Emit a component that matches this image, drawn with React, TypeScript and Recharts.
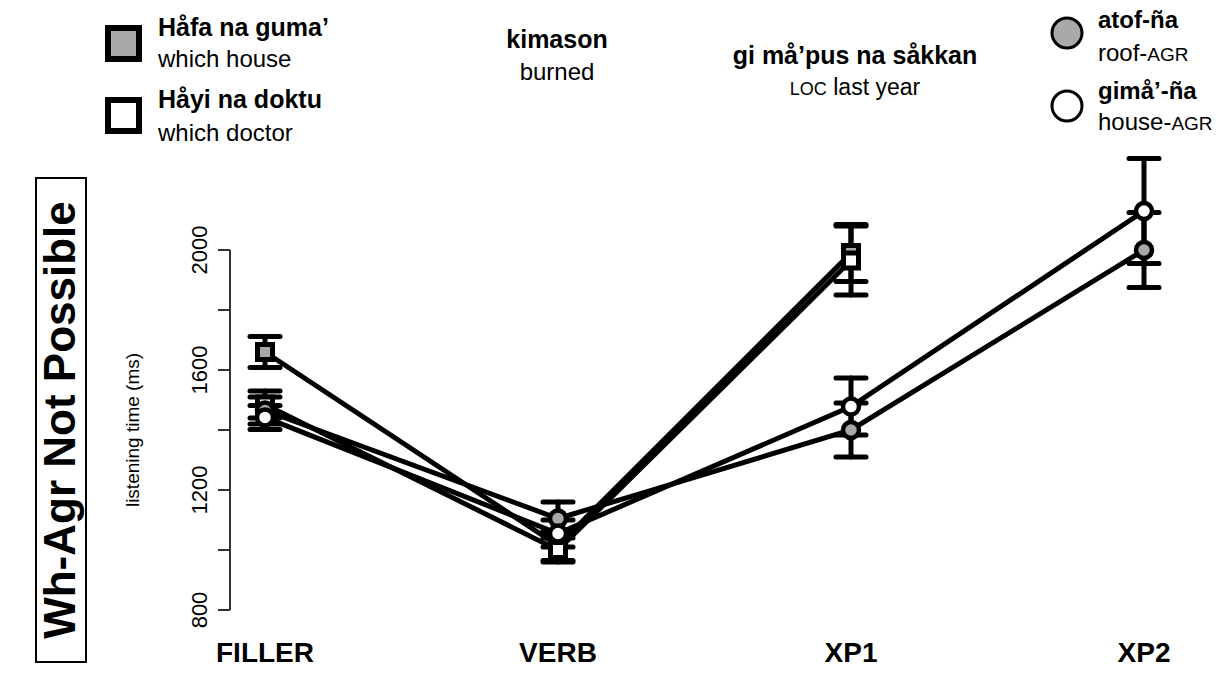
import React from 'react';
import { ComposedChart, Line, XAxis, YAxis, ErrorBar, ReferenceLine } from 'recharts';

const categories = ['FILLER', 'VERB', 'XP1', 'XP2'];
const hafaValues = [1660, 1015, 1990];
const hafaErrors = [52, 50, 95];
const hayiValues = [1485, 1000, 1965];
const hayiErrors = [45, 40, 115];
const atofValues = [1465, 1105, 1400, 2000];
const atofErrors = [45, 55, 90, 125];
const gimaValues = [1442, 1055, 1478, 2130];
const gimaErrors = [40, 45, 95, 175];
const yTicks = [800, 1000, 1200, 1400, 1600, 1800, 2000];
const yLabelTicks = [800, 1200, 1600, 2000];
const xTicks = [1, 2, 3, 4];

const FONT = '"Liberation Sans", Arial, Helvetica, sans-serif';

const W = 1222;
const H = 682;
const PLOT_LEFT = 230;
const PLOT_RIGHT = 1217;
const X_FIRST = 265;
const X_STEP = 293;
const xDomain = [1 - (X_FIRST - PLOT_LEFT) / X_STEP, 1 + (PLOT_RIGHT - X_FIRST) / X_STEP];

function rows(values: number[], errors: number[]) {
  return values.map((v, i) => ({ x: i + 1, cat: categories[i], v, e: errors[i] }));
}

const series = [
  { key: 'hafa', data: rows(hafaValues, hafaErrors), shape: 'square', fill: '#a9a9a9' },
  { key: 'hayi', data: rows(hayiValues, hayiErrors), shape: 'square', fill: '#ffffff' },
  { key: 'atof', data: rows(atofValues, atofErrors), shape: 'circle', fill: '#a9a9a9' },
  { key: 'gima', data: rows(gimaValues, gimaErrors), shape: 'circle', fill: '#ffffff' },
];

const makeDot = (shape: string, fill: string) => (props: any) => {
  const { cx, cy, index } = props;
  if (cx == null || cy == null) return <g key={`n${index}`} />;
  if (shape === 'square') {
    return <rect key={`s${index}`} x={cx - 7.5} y={cy - 7.5} width={15} height={15} fill={fill} stroke="#000" strokeWidth={5} />;
  }
  return <circle key={`c${index}`} cx={cx} cy={cy} r={8} fill={fill} stroke="#000" strokeWidth={4.5} />;
};

const XTick = (props: any) => {
  const { x, y, payload } = props;
  return (
    <text x={x} y={y} dy={14} textAnchor="middle" fontFamily={FONT} fontWeight="bold" fontSize={28} fill="#000">
      {categories[payload.value - 1]}
    </text>
  );
};

const YTick = (props: any) => {
  const { x, y, payload } = props;
  if (!yLabelTicks.includes(payload.value)) return <g />;
  const bx = x - 9;
  return (
    <text x={bx} y={y} transform={`rotate(-90 ${bx} ${y})`} textAnchor="middle" fontFamily={FONT} fontSize={22} fill="#000">
      {payload.value}
    </text>
  );
};

export default function App() {
  return (
    <div style={{ position: 'absolute', left: 0, top: 0, width: W, height: H, background: '#fff', fontFamily: FONT }}>
      <ComposedChart width={W} height={H} margin={{ top: 130, right: W - PLOT_RIGHT, bottom: 0, left: 0 }}>
        <XAxis
          dataKey="x"
          type="number"
          domain={xDomain}
          ticks={xTicks}
          allowDataOverflow
          axisLine={false}
          tickLine={false}
          tick={<XTick />}
          height={42}
          interval={0}
        />
        <YAxis
          type="number"
          domain={[700, 2400]}
          ticks={yTicks}
          interval={0}
          width={PLOT_LEFT}
          axisLine={false}
          tickLine={{ stroke: '#333', strokeWidth: 2 }}
          tickSize={12}
          tick={<YTick />}
        />
        <ReferenceLine
          segment={[{ x: xDomain[0], y: 800 }, { x: xDomain[0], y: 2000 }]}
          stroke="#333"
          strokeWidth={2}
          ifOverflow="visible"
        />
        {series.map((s) => (
          <Line
            key={`${s.key}-case`}
            data={s.data}
            dataKey="v"
            stroke="#fff"
            strokeWidth={8}
            dot={false}
            activeDot={false}
            isAnimationActive={false}
          />
        ))}
        {series.map((s) => (
          <Line
            key={`${s.key}-line`}
            data={s.data}
            dataKey="v"
            stroke="#000"
            strokeWidth={5}
            dot={false}
            activeDot={false}
            isAnimationActive={false}
          />
        ))}
        {series.map((s) => (
          <Line
            key={`${s.key}-marks`}
            data={s.data}
            dataKey="v"
            stroke="none"
            strokeWidth={0}
            dot={makeDot(s.shape, s.fill)}
            activeDot={false}
            isAnimationActive={false}
          >
            <ErrorBar dataKey="e" direction="y" width={15} strokeWidth={5} stroke="#000" strokeLinecap="round" isAnimationActive={false} />
          </Line>
        ))}
      </ComposedChart>
      <svg width={W} height={H} style={{ position: 'absolute', left: 0, top: 0, pointerEvents: 'none' }} fontFamily={FONT}>
        <rect x={108} y={28} width={31} height={31} fill="#a9a9a9" stroke="#000" strokeWidth={6} />
        <rect x={108} y={100} width={31} height={31} fill="#fff" stroke="#000" strokeWidth={6} />
        <text x={158} y={36} fontWeight="bold" fontSize={25}>Håfa na guma’</text>
        <text x={158} y={67} fontSize={24}>which house</text>
        <text x={158} y={108} fontWeight="bold" fontSize={25}>Håyi na doktu</text>
        <text x={158} y={141} fontSize={24}>which doctor</text>

        <text x={557} y={48} textAnchor="middle" fontWeight="bold" fontSize={25}>kimason</text>
        <text x={557} y={80} textAnchor="middle" fontSize={24}>burned</text>
        <text x={855} y={64} textAnchor="middle" fontWeight="bold" fontSize={25}>gi må’pus na såkkan</text>
        <text x={855} y={95} textAnchor="middle" fontSize={23}>
          <tspan fontSize={18}>LOC</tspan> last year
        </text>

        <circle cx={1067} cy={33} r={15} fill="#a9a9a9" stroke="#000" strokeWidth={3} />
        <circle cx={1067} cy={106} r={15} fill="#fff" stroke="#000" strokeWidth={3} />
        <text x={1098} y={28} fontWeight="bold" fontSize={24}>atof-ña</text>
        <text x={1098} y={61} fontSize={24}>roof-<tspan fontSize={19}>AGR</tspan></text>
        <text x={1098} y={99} fontWeight="bold" fontSize={24}>gimå’-ña</text>
        <text x={1098} y={130} fontSize={24}>house-<tspan fontSize={19}>AGR</tspan></text>

        <text x={139} y={430} transform="rotate(-90 139 430)" textAnchor="middle" fontSize={19}>listening time (ms)</text>

        <rect x={36} y={178} width={50} height={484} fill="none" stroke="#000" strokeWidth={2} />
        <text x={75} y={420} transform="rotate(-90 75 420)" textAnchor="middle" fontWeight="bold" fontSize={44}>Wh-Agr Not Possible</text>
      </svg>
    </div>
  );
}
